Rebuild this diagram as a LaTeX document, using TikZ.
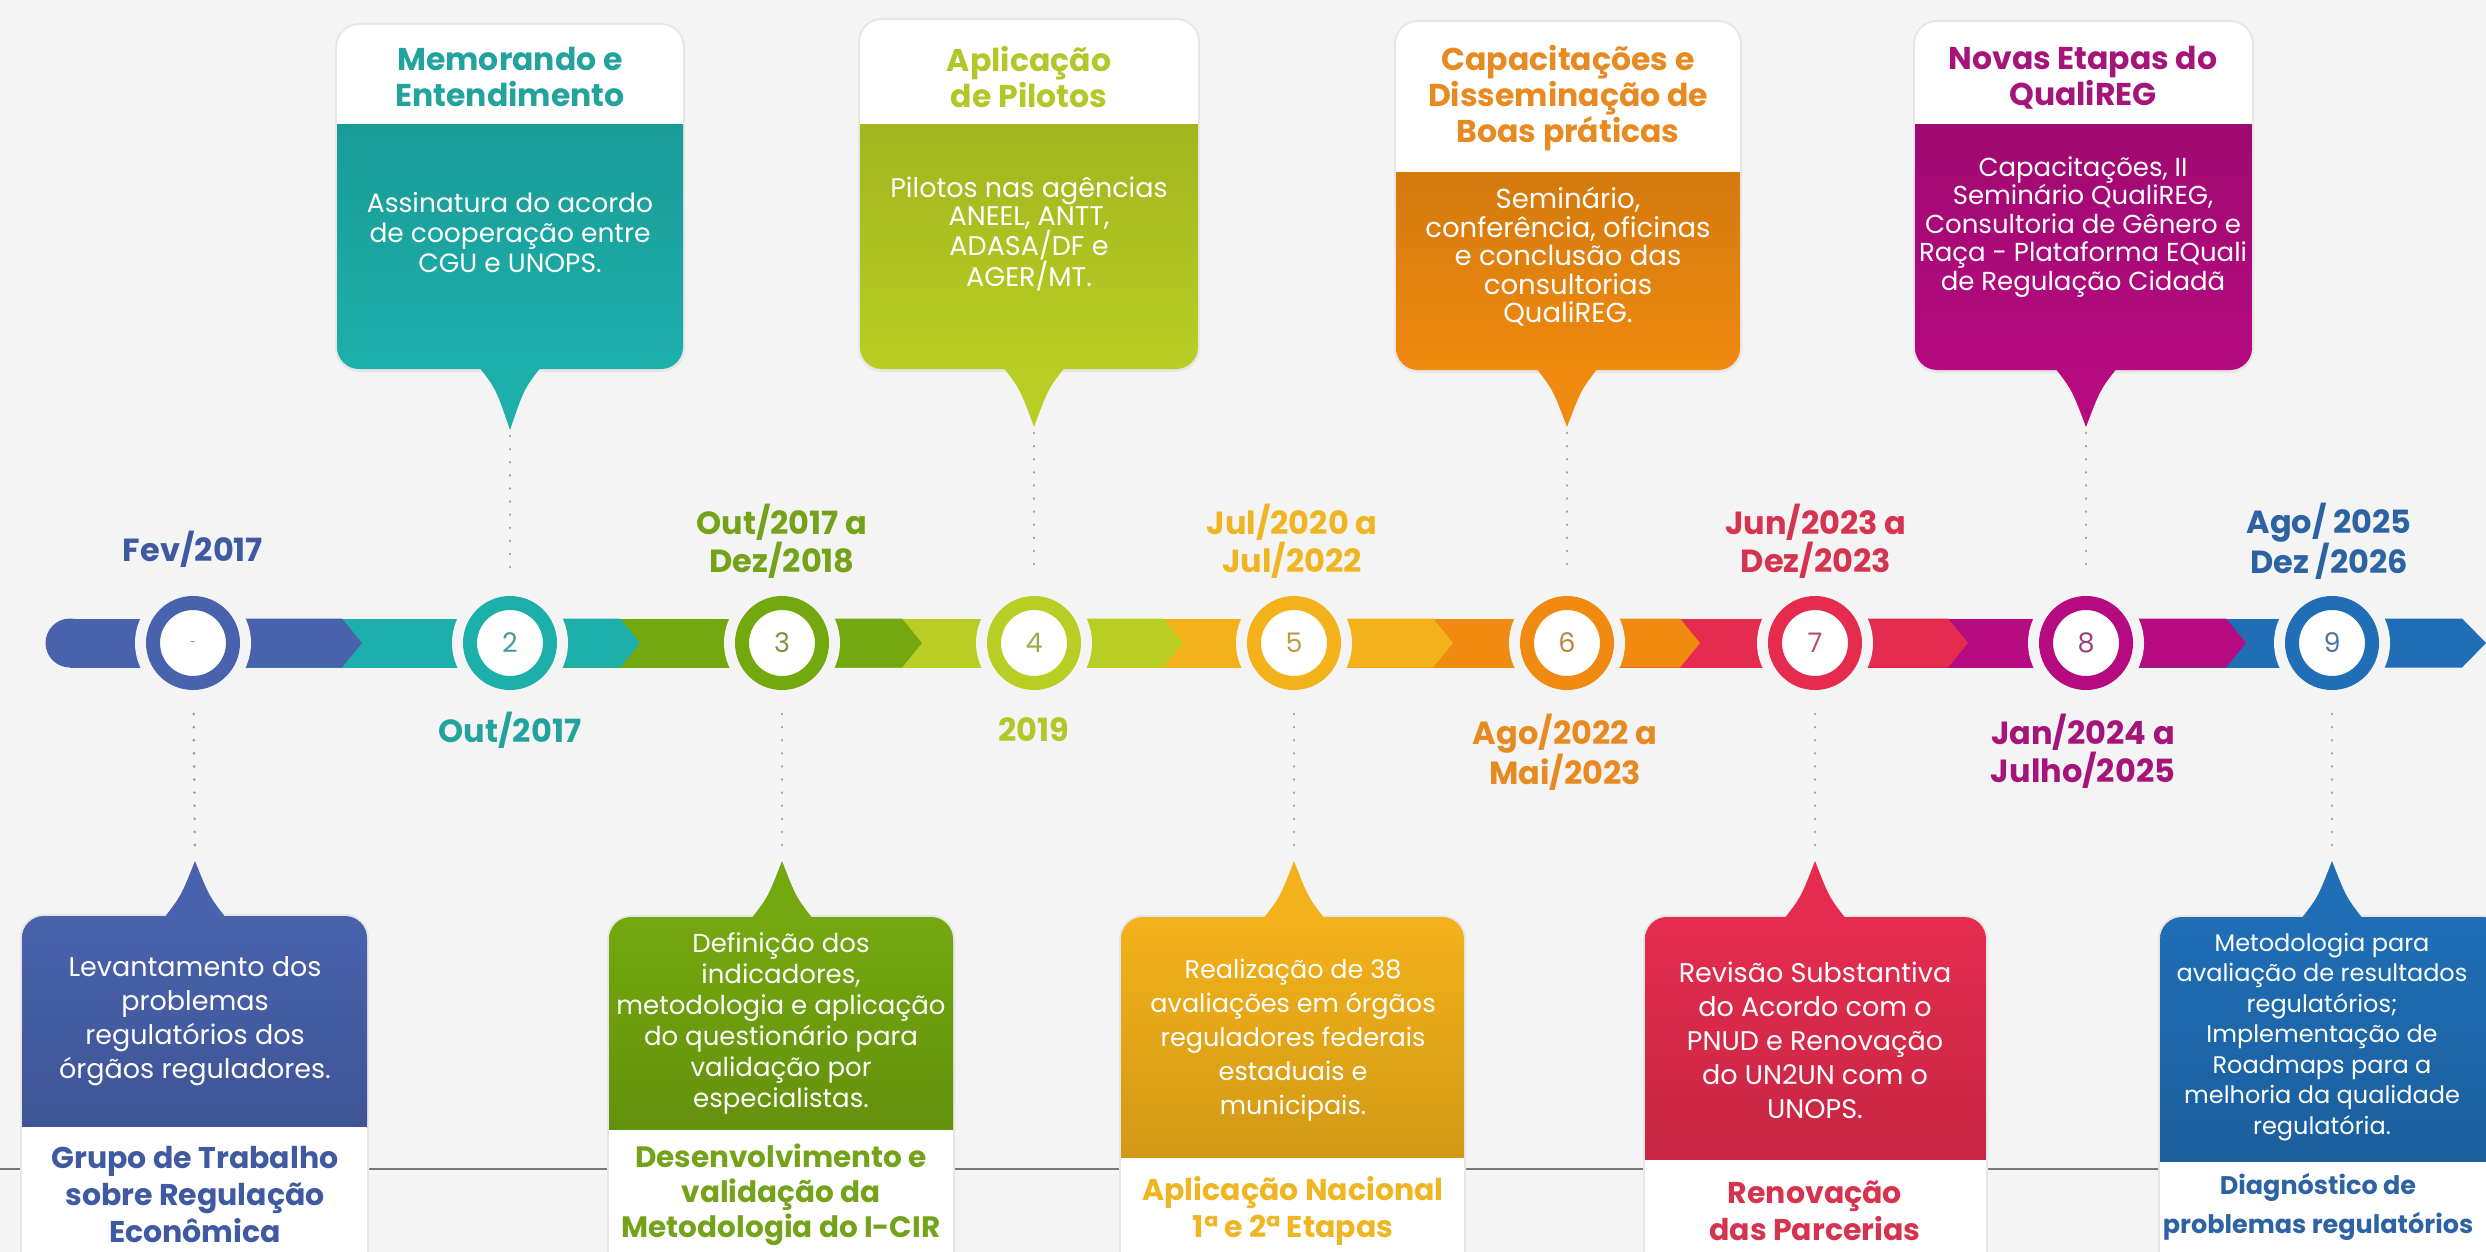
\documentclass[tikz,border=0pt]{standalone}
\usepackage{fontspec}
\setmainfont{Poppins}
\definecolor{bg}{HTML}{F4F4F4}
\definecolor{cA}{HTML}{4862AD}
\definecolor{cB}{HTML}{1DB0AB}
\definecolor{cC}{HTML}{74A80F}
\definecolor{cD}{HTML}{B8CE24}
\definecolor{cE}{HTML}{F4B21A}
\definecolor{cF}{HTML}{F08A10}
\definecolor{cG}{HTML}{E62C4E}
\definecolor{cH}{HTML}{B50A80}
\definecolor{cI}{HTML}{1F6EB6}
\definecolor{tA}{HTML}{3F5AA0}
\definecolor{tB}{HTML}{22A39E}
\definecolor{tC}{HTML}{74A31A}
\definecolor{tD}{HTML}{B2C829}
\definecolor{tE}{HTML}{F0B522}
\definecolor{tF}{HTML}{E88A22}
\definecolor{tG}{HTML}{D6334E}
\definecolor{tH}{HTML}{A51479}
\definecolor{tI}{HTML}{2D63A3}
\definecolor{shadowc}{HTML}{E6E6E6}
\definecolor{rule}{HTML}{777777}
\definecolor{dotc}{HTML}{9A9A9A}

\newcommand{\tcall}[9]{%
  \fill[shadowc,rounded corners=24] (#2-2,#4-2) rectangle (#3+2,#6+3);
  \begin{scope}
    \clip[rounded corners=22] (#2,#4) rectangle (#3,#6);
    \fill[white] (#2,#4) rectangle (#3,#5);
    \shade[top color=#9!88!black, bottom color=#9] (#2,#5) rectangle (#3,#6);
  \end{scope}
  \fill[#9] (#7-31,#6-2) .. controls (#7-14,#6+20) .. (#7,#8) .. controls (#7+14,#6+20) .. (#7+31,#6-2) -- cycle;
  \coordinate (#1) at (#7,#8);
}
\newcommand{\bcall}[9]{%
  \fill[shadowc,rounded corners=24] (#2-2,#5-2) rectangle (#3+2,#7+2);
  \begin{scope}
    \clip[rounded corners=22] (#2,#5) rectangle (#3,#7);
    \shade[top color=#9, bottom color=#9!86!black] (#2,#5) rectangle (#3,#6);
    \fill[white] (#2,#6) rectangle (#3,#7);
  \end{scope}
  \fill[#9] (#8-31,#5+2) .. controls (#8-14,#5-20) .. (#8,#4) .. controls (#8+14,#5-20) .. (#8+31,#5+2) -- cycle;
  \coordinate (#1) at (#8,#4);
}

\begin{document}
\begin{tikzpicture}[x=1pt,y=-1pt,
  ring/.style={circle, draw=#1, line width=14pt, fill=white, minimum size=80pt, inner sep=0pt,
     text=#1!55!gray, font=\fontsize{27}{30}\selectfont},
  hdr/.style={align=center, inner sep=0pt, font=\fontsize{31.5}{36}\selectfont\bfseries},
  tb/.style 2 args={align=center, inner sep=0pt, text=white, font=\fontsize{#1}{#2}\selectfont},
  ftr/.style 2 args={align=center, inner sep=0pt, font=\fontsize{#1}{#2}\selectfont\bfseries},
  datel/.style={align=center, inner sep=0pt, font=\fontsize{32}{38}\selectfont\bfseries},
  dotl/.style={draw=dotc, line width=2.8pt, line cap=round, dash pattern=on 0.1pt off 13pt}]

\useasboundingbox (0,0) rectangle (2486,1252);
\fill[bg] (0,0) rectangle (2486,1252);

% bottom rule
\draw[rule, line width=2.5pt] (0,1169) -- (2486,1169);

% ---------- timeline bar ----------
\fill[cA] (70,643) circle (24.5);
\fill[cA] (70,618.5) rectangle (193,667.5);
\fill[cB] (193,618.5) rectangle (510,667.5);
\fill[cA] (193,618.5) -- (342,618.5) -- (362,643) -- (342,667.5) -- (193,667.5) -- cycle;
\fill[cC] (510,618.5) rectangle (782,667.5);
\fill[cB] (510,618.5) -- (620,618.5) -- (640,643) -- (620,667.5) -- (510,667.5) -- cycle;
\fill[cD] (782,618.5) rectangle (1034,667.5);
\fill[cC] (782,618.5) -- (902,618.5) -- (922,643) -- (902,667.5) -- (782,667.5) -- cycle;
\fill[cE] (1034,618.5) rectangle (1294,667.5);
\fill[cD] (1034,618.5) -- (1163,618.5) -- (1183,643) -- (1163,667.5) -- (1034,667.5) -- cycle;
\fill[cF] (1294,618.5) rectangle (1567,667.5);
\fill[cE] (1294,618.5) -- (1433,618.5) -- (1453,643) -- (1433,667.5) -- (1294,667.5) -- cycle;
\fill[cG] (1567,618.5) rectangle (1815,667.5);
\fill[cF] (1567,618.5) -- (1680,618.5) -- (1700,643) -- (1680,667.5) -- (1567,667.5) -- cycle;
\fill[cH] (1815,618.5) rectangle (2086,667.5);
\fill[cG] (1815,618.5) -- (1948,618.5) -- (1968,643) -- (1948,667.5) -- (1815,667.5) -- cycle;
\fill[cI] (2086,618.5) rectangle (2332,667.5);
\fill[cH] (2086,618.5) -- (2226,618.5) -- (2246,643) -- (2226,667.5) -- (2086,667.5) -- cycle;
\fill[cI] (2332,618.5) -- (2462,618.5) -- (2486,643) -- (2462,667.5) -- (2332,667.5) -- cycle;

% gaps round the rings
\foreach \x in {193,510,782,1034,1294,1567,1815,2086,2332}
  \fill[bg] (\x,643) circle (58);

% rings
\node[ring=cA] (c1) at (193,643) {\fontsize{10}{10}\selectfont -};
\node[ring=cB] (c2) at (510,643) {2};
\node[ring=cC] (c3) at (782,643) {3};
\node[ring=cD] (c4) at (1034,643) {4};
\node[ring=cE] (c5) at (1294,643) {5};
\node[ring=cF] (c6) at (1567,643) {6};
\node[ring=cG] (c7) at (1815,643) {7};
\node[ring=cH] (c8) at (2086,643) {8};
\node[ring=cI] (c9) at (2332,643) {9};

% ---------- top callouts ----------
\tcall{t2}{337}{683}{25}{125}{369}{510}{430}{cB}
\tcall{t4}{860}{1198}{20}{125}{369}{1034}{427}{cD}
\tcall{t6}{1396}{1740}{22}{173}{370}{1567}{427}{cF}
\tcall{t8}{1915}{2252}{22}{125}{370}{2086}{427}{cH}

% ---------- bottom callouts ----------
\bcall{t1}{22}{367}{861}{916}{1127}{1300}{195}{cA}
\bcall{t3}{609}{953}{861}{917}{1130}{1300}{782}{cC}
\bcall{t5}{1121}{1464}{861}{917}{1158}{1300}{1294}{cE}
\bcall{t7}{1645}{1986}{861}{917}{1160}{1300}{1815}{cG}
\bcall{t9}{2160}{2505}{861}{917}{1162}{1300}{2332}{cI}

% ---------- dotted connectors ----------
\draw[dotl, shorten <=6pt, shorten >=19pt] (t2) -- (c2);
\draw[dotl, shorten <=6pt, shorten >=19pt] (t4) -- (c4);
\draw[dotl, shorten <=6pt, shorten >=19pt] (t6) -- (c6);
\draw[dotl, shorten <=6pt, shorten >=19pt] (t8) -- (c8);
\draw[dotl, shorten <=24pt, shorten >=10pt] (c1) -- (t1);
\draw[dotl, shorten <=24pt, shorten >=10pt] (c3) -- (t3);
\draw[dotl, shorten <=24pt, shorten >=10pt] (c5) -- (t5);
\draw[dotl, shorten <=24pt, shorten >=10pt] (c7) -- (t7);
\draw[dotl, shorten <=24pt, shorten >=10pt] (c9) -- (t9);

% ---------- dates ----------
\node[datel, text=tA] (d1) at (193,549) {Fev/2017};
\node[datel, text=tC] (d3) at (782,541) {Out/2017 a\\Dez/2018};
\node[datel, text=tE] (d5) at (1292,541) {Jul/2020 a\\Jul/2022};
\node[datel, text=tG] (d7) at (1816,541) {Jun/2023 a\\Dez/2023};
\node[datel, text=tI] (d9) at (2329,541) {Ago/ 2025\\Dez /2026};
\node[datel, text=tB] (d2) at (510,730) {Out/2017};
\node[datel, text=tD] (d4) at (1034,730) {2019};
\node[datel, text=tF] (d6) at (1565,752) {Ago/2022 a\\Mai/2023};
\node[datel, text=tH] (d8) at (2083,751) {Jan/2024 a\\Julho/2025};

% ---------- top callout texts ----------
\node[hdr, text=tB] (h2) at (510,77) {Memorando e\\Entendimento};
\node[tb={26.5}{30}] (b2) at (510,233) {Assinatura do acordo\\de cooperação entre\\CGU e UNOPS.};
\node[hdr, text=tD] (h4) at (1029,77) {Aplicação\\de Pilotos};
\node[tb={27}{27.5}] (b4) at (1029,234) {Pilotos nas agências\\ANEEL, ANTT,\\ADASA/DF e\\AGER/MT.};
\node[hdr, text=tF] (h6) at (1568,98) {Capacitações e\\Disseminação de\\Boas práticas};
\node[tb={27.5}{28.5}] (b6) at (1568,257) {Seminário,\\conferência, oficinas\\e conclusão das\\consultorias\\QualiREG.};
\node[hdr, text=tH] (h8) at (2083,78) {Novas Etapas do\\QualiREG};
\node[tb={26}{28.5}] (b8) at (2083,227) {Capacitações, II\\Seminário QualiREG,\\Consultoria de Gênero e\\Raça - Plataforma EQuali\\de Regulação Cidadã};

% ---------- bottom callout texts ----------
\node[tb={27}{34}] (b1) at (195,1021) {Levantamento dos\\problemas\\regulatórios dos\\órgãos reguladores.};
\node[ftr={30}{37}, text=tA] (f1) at (195,1195) {Grupo de Trabalho\\sobre Regulação\\Econômica};
\node[tb={26}{31}] (b3) at (781,1023) {Definição dos\\indicadores,\\metodologia e aplicação\\do questionário para\\validação por\\especialistas.};
\node[ftr={29.5}{35}, text=tC] (f3) at (781,1195) {Desenvolvimento e\\validação da\\Metodologia do I-CIR};
\node[tb={25.5}{34}] (b5) at (1293,1040) {Realização de 38\\avaliações em órgãos\\reguladores federais\\estaduais e\\municipais.};
\node[ftr={30}{37}, text=tE] (f5) at (1293,1211) {Aplicação Nacional\\1ª e 2ª Etapas};
\node[tb={27}{34}] (b7) at (1815,1040) {Revisão Substantiva\\do Acordo com o\\PNUD e Renovação\\do UN2UN com o\\UNOPS.};
\node[ftr={30}{37}, text=tG] (f7) at (1815,1211) {Renovação\\das Parcerias};
\node[tb={24}{30.5}] (b9) at (2322,1037) {Metodologia para\\avaliação de resultados\\regulatórios;\\Implementação de\\Roadmaps para a\\melhoria da qualidade\\regulatória.};
\node[ftr={25.5}{39}, text=tI] (f9) at (2318,1207) {Diagnóstico de\\problemas regulatórios};
\end{tikzpicture}
\end{document}
